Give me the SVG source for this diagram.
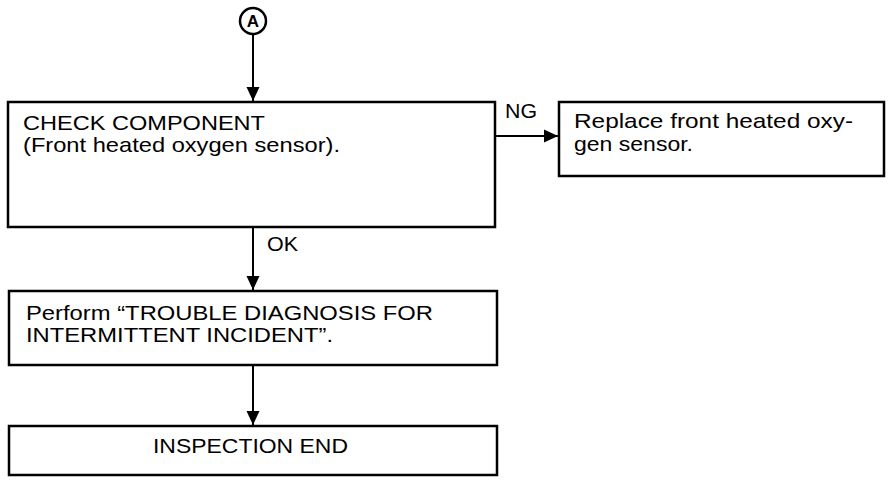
<svg xmlns="http://www.w3.org/2000/svg" width="896" height="482" viewBox="0 0 896 482">
<style>
.box{fill:#fff;stroke:#000;stroke-width:2.5}
.t{font-family:"Liberation Sans",Arial,sans-serif;font-size:21px;fill:#000}
.ln{stroke:#000;stroke-width:2;fill:none}
</style>
<defs>
<marker id="ah" markerWidth="14" markerHeight="14" refX="14" refY="7" orient="auto" markerUnits="userSpaceOnUse">
<path d="M0,0.5 L14,7 L0,13.5 Z" fill="#000"/>
</marker>
</defs>
<rect width="896" height="482" fill="#fff"/>
<g id="connectors">
<line class="ln" x1="253" y1="35" x2="253" y2="101" marker-end="url(#ah)"/>
<line class="ln" x1="495" y1="136" x2="558" y2="136" marker-end="url(#ah)"/>
<line class="ln" x1="253" y1="228" x2="253" y2="290" marker-end="url(#ah)"/>
<line class="ln" x1="253" y1="366" x2="253" y2="425" marker-end="url(#ah)"/>
<text class="t" x="505" y="118" textLength="32" lengthAdjust="spacingAndGlyphs">NG</text>
<text class="t" x="267" y="251" textLength="31" lengthAdjust="spacingAndGlyphs">OK</text>
</g>
<g id="startA">
<circle cx="253" cy="21" r="13" fill="#fff" stroke="#000" stroke-width="2.5"/>
<text x="253" y="27" text-anchor="middle" font-family="Liberation Sans,Arial,sans-serif" font-weight="bold" font-size="17">A</text>
</g>
<g id="check">
<rect class="box" x="8" y="102" width="487" height="125"/>
<text class="t" x="23" y="130" textLength="242" lengthAdjust="spacingAndGlyphs">CHECK COMPONENT</text>
<text class="t" x="23" y="152" textLength="317" lengthAdjust="spacingAndGlyphs">(Front heated oxygen sensor).</text>
</g>
<g id="replace">
<rect class="box" x="559" y="102" width="325" height="74"/>
<text class="t" x="574" y="128" textLength="279" lengthAdjust="spacingAndGlyphs">Replace front heated oxy-</text>
<text class="t" x="574" y="151" textLength="119" lengthAdjust="spacingAndGlyphs">gen sensor.</text>
</g>
<g id="perform">
<rect class="box" x="9" y="291" width="488" height="74"/>
<text class="t" x="26" y="320" textLength="407" lengthAdjust="spacingAndGlyphs">Perform “TROUBLE DIAGNOSIS FOR</text>
<text class="t" x="26" y="342" textLength="307" lengthAdjust="spacingAndGlyphs">INTERMITTENT INCIDENT”.</text>
</g>
<g id="end">
<rect class="box" x="9" y="426" width="488" height="49"/>
<text class="t" x="153" y="453" textLength="195" lengthAdjust="spacingAndGlyphs">INSPECTION END</text>
</g>
</svg>
